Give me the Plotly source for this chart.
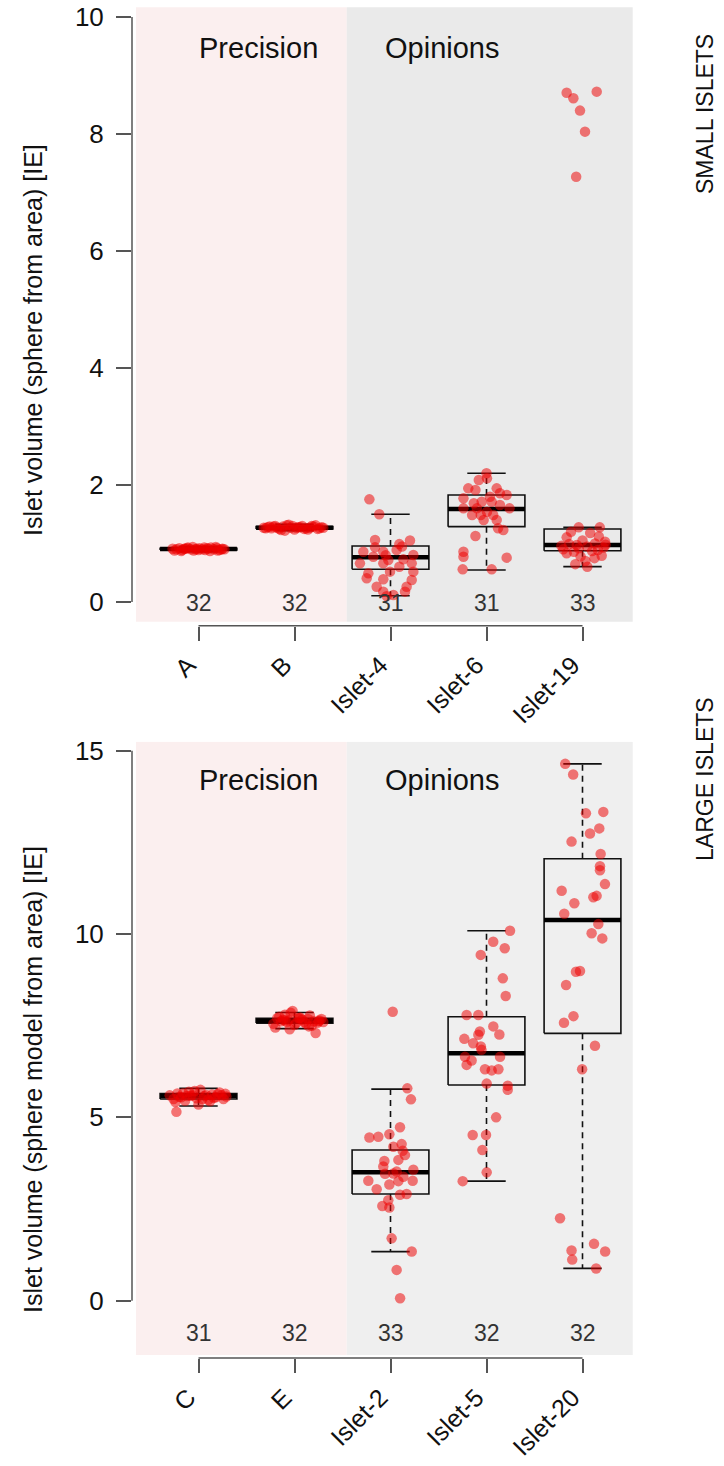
import plotly.graph_objects as go

# ---------------- data ----------------
top_categories = ["A", "B", "Islet-4", "Islet-6", "Islet-19"]
bottom_categories = ["C", "E", "Islet-2", "Islet-5", "Islet-20"]
top_counts = [32, 32, 31, 31, 33]
bottom_counts = [31, 32, 33, 32, 32]

# box statistics: lower whisker, q1, median, q3, upper whisker
top_lw = [0.86, 1.22, 0.108, 0.547, 0.604]
top_q1 = [0.89, 1.25, 0.559, 1.288, 0.877]
top_med = [0.906, 1.27, 0.764, 1.59, 0.974]
top_q3 = [0.92, 1.29, 0.957, 1.829, 1.248]
top_uw = [0.95, 1.33, 1.50, 2.20, 1.276]

bot_lw = [5.31, 7.42, 1.337, 3.26, 0.88]
bot_q1 = [5.50, 7.57, 2.91, 5.88, 7.29]
bot_med = [5.58, 7.636, 3.50, 6.75, 10.38]
bot_q3 = [5.65, 7.70, 4.11, 7.745, 12.05]
bot_uw = [5.79, 7.86, 5.77, 10.09, 14.64]

# jittered points: horizontal offset from category centre, value
A_dx = [-0.27, -0.23, -0.2, -0.17, -0.14, -0.11, -0.08, -0.05, -0.02, 0.01, 0.04, 0.07, 0.1, 0.13, 0.16, 0.19,
        0.22, 0.25, 0.27, -0.25, -0.18, -0.12, -0.06, 0.0, 0.06, 0.12, 0.18, 0.24, -0.15, -0.03, 0.09, 0.2]
A_y = [0.91, 0.9, 0.92, 0.89, 0.91, 0.93, 0.9, 0.88, 0.91, 0.92, 0.9, 0.89, 0.91, 0.93, 0.9, 0.92,
       0.89, 0.91, 0.9, 0.88, 0.87, 0.92, 0.94, 0.89, 0.93, 0.87, 0.94, 0.9, 0.91, 0.9, 0.92, 0.88]

B_dx = [-0.32, -0.28, -0.24, -0.2, -0.16, -0.12, -0.08, -0.04, 0.0, 0.04, 0.08, 0.12, 0.16, 0.2, 0.24, 0.28,
        -0.3, -0.22, -0.14, -0.06, 0.02, 0.1, 0.18, 0.26, -0.26, -0.1, 0.06, 0.22, -0.18, 0.14, -0.02, 0.3]
B_y = [1.27, 1.28, 1.26, 1.3, 1.25, 1.29, 1.31, 1.27, 1.24, 1.28, 1.3, 1.26, 1.27, 1.29, 1.25, 1.28,
       1.26, 1.29, 1.23, 1.32, 1.27, 1.25, 1.3, 1.26, 1.29, 1.22, 1.28, 1.31, 1.27, 1.24, 1.3, 1.27]

I4_dx = [-0.22, -0.117, -0.161, 0.092, 0.203, -0.161, -0.283, -0.075, 0.064, 0.238, -0.179, -0.023, 0.134,
         -0.318, -0.075, 0.221, 0.092, -0.231, -0.005, 0.238, -0.248, -0.075, 0.221, -0.144, 0.168, -0.075,
         0.151, 0.030, -0.040, 0.12, -0.05]
I4_y = [1.755, 1.50, 1.06, 0.99, 1.05, 0.934, 0.86, 0.86, 0.889, 0.803, 0.774, 0.718, 0.729,
        0.661, 0.661, 0.661, 0.604, 0.49, 0.519, 0.519, 0.405, 0.388, 0.376, 0.262, 0.262, 0.177,
        0.177, 0.12, 0.10, 0.95, 0.80]

I6_dx = [0.0, 0.005, -0.08, -0.19, 0.106, -0.115, 0.14, 0.21, -0.24, -0.05, 0.054, -0.132, -0.24, -0.1, 0.14,
         0.24, -0.15, -0.06, 0.07, 0.005, 0.106, 0.12, -0.115, -0.24, -0.24, 0.21, -0.248, 0.054, 0.175,
         -0.03, 0.036]
I6_y = [2.2, 2.114, 2.085, 1.943, 1.943, 1.915, 1.858, 1.829, 1.772, 1.715, 1.715, 1.687, 1.601, 1.601, 1.658,
        1.601, 1.487, 1.487, 1.487, 1.544, 1.402, 1.259, 1.128, 0.86, 0.775, 0.758, 0.558, 0.558, 1.231,
        1.402, 1.80]

I19_dx = [-0.04, 0.18, -0.165, 0.235, -0.06, 0.13, -0.165, -0.04, 0.05, 0.16, -0.09, 0.125, -0.075, 0.05,
          0.2, -0.22, 0.0, 0.08, -0.12, 0.22, -0.2, 0.1, -0.02, 0.17, -0.14, 0.03, 0.24,
          -0.165, -0.095, 0.148, -0.026, 0.026, -0.066]
I19_y = [1.276, 1.276, 1.105, 1.031, 0.974, 1.0, 0.832, 0.92, 0.95, 0.89, 0.86, 0.75, 0.647, 0.604,
         0.79, 0.96, 1.05, 1.18, 1.2, 0.93, 0.9, 0.87, 0.78, 1.12, 0.99, 0.7, 0.98,
         8.706, 8.61, 8.724, 8.40, 8.04, 7.27]

C_dx = [-0.3, -0.26, -0.22, -0.18, -0.14, -0.1, -0.06, -0.02, 0.02, 0.06, 0.1, 0.14, 0.18, 0.22, 0.26, 0.29,
        -0.24, -0.16, -0.08, 0.0, 0.08, 0.16, 0.24, -0.2, -0.04, 0.12, 0.2, -0.12, 0.04, -0.23, 0.28]
C_y = [5.6, 5.5, 5.65, 5.55, 5.45, 5.7, 5.6, 5.52, 5.75, 5.58, 5.48, 5.62, 5.55, 5.68, 5.5, 5.57,
       5.42, 5.66, 5.59, 5.35, 5.61, 5.53, 5.6, 5.56, 5.72, 5.44, 5.63, 5.58, 5.5, 5.15, 5.64]

E_dx = [-0.22, -0.18, -0.14, -0.1, -0.06, -0.02, 0.02, 0.06, 0.1, 0.14, 0.18, 0.22, 0.26, 0.3, -0.2, -0.12,
        -0.04, 0.04, 0.12, 0.2, 0.28, -0.16, -0.08, 0.0, 0.08, 0.16, 0.24, -0.1, 0.05, 0.15, 0.25, -0.05]
E_y = [7.55, 7.7, 7.62, 7.8, 7.65, 7.9, 7.58, 7.72, 7.6, 7.68, 7.5, 7.3, 7.64, 7.6, 7.45, 7.66,
       7.85, 7.7, 7.55, 7.62, 7.68, 7.74, 7.6, 7.52, 7.66, 7.78, 7.58, 7.64, 7.7, 7.48, 7.62, 7.4]

I2_dx = [0.023, 0.175, 0.213, 0.099, -0.220, -0.127, -0.012, 0.116, 0.127, 0.151, -0.064, 0.082, 0.238, 0.064,
         -0.057, 0.030, -0.231, -0.012, 0.082, 0.231, 0.099, 0.168, -0.085, -0.012, -0.023, 0.012, 0.221,
         0.064, 0.1, 0.030, -0.075, 0.134, -0.144]
I2_y = [7.88, 5.79, 5.49, 4.73, 4.45, 4.47, 4.54, 4.27, 4.09, 3.97, 3.81, 3.84, 3.57, 3.52,
        3.46, 3.47, 3.27, 3.17, 3.26, 3.27, 2.89, 2.91, 2.58, 2.54, 2.74, 1.70, 1.34,
        0.84, 0.065, 4.2, 3.66, 3.38, 3.04]

I5_dx = [0.245, 0.07, 0.19, -0.06, 0.17, 0.20, -0.207, -0.085, -0.069, -0.231, -0.085, 0.134, -0.059, -0.052,
         -0.224, -0.155, -0.207, -0.016, 0.054, 0.124, 0.002, 0.221, 0.221, 0.1, -0.144, -0.005, -0.043,
         0.002, -0.248, 0.071, -0.139, 0.141]
I5_y = [10.09, 9.79, 9.61, 9.43, 8.79, 8.31, 7.79, 7.79, 7.34, 7.14, 7.25, 7.26, 6.93, 6.84,
        6.65, 6.55, 6.43, 6.31, 6.28, 6.31, 5.92, 5.86, 5.75, 5.00, 4.52, 4.52, 4.11,
        3.50, 3.26, 7.48, 7.02, 6.65]

I20_dx = [-0.18, -0.097, 0.036, 0.217, 0.175, 0.078, -0.114, 0.189, 0.182, 0.182, 0.234, -0.217, 0.147, 0.113,
          -0.085, -0.19, 0.165, 0.095, 0.206, -0.068, -0.026, -0.171, -0.094, -0.193, 0.130, -0.004,
          -0.234, 0.12, -0.114, 0.236, -0.107, 0.142]
I20_y = [14.64, 14.35, 13.29, 13.33, 12.88, 12.74, 12.52, 12.18, 11.85, 11.74, 11.36, 11.18, 11.04, 11.0,
         10.84, 10.55, 10.27, 10.02, 9.88, 8.97, 8.99, 8.61, 7.76, 7.58, 6.95, 6.31,
         2.25, 1.55, 1.37, 1.34, 1.12, 0.88]

top_points = [(A_dx, A_y), (B_dx, B_y), (I4_dx, I4_y), (I6_dx, I6_y), (I19_dx, I19_y)]
bot_points = [(C_dx, C_y), (E_dx, E_y), (I2_dx, I2_y), (I5_dx, I5_y), (I20_dx, I20_y)]

# ---------------- style ----------------
FONT = "Liberation Sans"
PINK = "#FBEFEF"
GRAY_TOP = "#EAEAEA"
GRAY_BOT = "#EFEFEF"
PT_COLOR = "rgba(238,0,0,0.52)"
BOX_W = 0.8
CAP_W = 0.4

fig = go.Figure()


def add_panel(xa, ya, lw, q1, med, q3, uw, points):
    n = len(med)
    cx = list(range(1, n + 1))
    bx, by = [], []
    mx, my = [], []
    wx, wy = [], []
    kx, ky = [], []
    for i in range(n):
        c = cx[i]
        l, r = c - BOX_W / 2, c + BOX_W / 2
        bx += [l, r, r, l, l, None]
        by += [q1[i], q1[i], q3[i], q3[i], q1[i], None]
        mx += [l, r, None]
        my += [med[i], med[i], None]
        wx += [c, c, None, c, c, None]
        wy += [q3[i], uw[i], None, q1[i], lw[i], None]
        kx += [c - CAP_W / 2, c + CAP_W / 2, None, c - CAP_W / 2, c + CAP_W / 2, None]
        ky += [uw[i], uw[i], None, lw[i], lw[i], None]
    common = dict(xaxis=xa, yaxis=ya, mode="lines", hoverinfo="skip", showlegend=False)
    fig.add_trace(go.Scatter(x=wx, y=wy, line=dict(color="#111", width=1.6, dash="6px,5px"), **common))
    fig.add_trace(go.Scatter(x=kx, y=ky, line=dict(color="#111", width=1.6), **common))
    fig.add_trace(go.Scatter(x=bx, y=by, line=dict(color="#111", width=1.6), **common))
    fig.add_trace(go.Scatter(x=mx, y=my, line=dict(color="#000", width=4.5), **common))
    for i, (dx, yv) in enumerate(points):
        fig.add_trace(go.Scatter(
            x=[cx[i] + d for d in dx], y=yv, xaxis=xa, yaxis=ya, mode="markers",
            marker=dict(size=10.5, color=PT_COLOR, line=dict(width=0)),
            showlegend=False, hoverinfo="skip"))


add_panel("x", "y", top_lw, top_q1, top_med, top_q3, top_uw, top_points)
add_panel("x2", "y2", bot_lw, bot_q1, bot_med, bot_q3, bot_uw, bot_points)

shapes = []
for xr, yr, gray, y0, y1 in [("x", "y", GRAY_TOP, -0.337, 10.166), ("x2", "y2", GRAY_BOT, -1.481, 15.244)]:
    shapes.append(dict(type="rect", xref=xr, yref=yr, x0=0.349, x1=2.544, y0=y0, y1=y1,
                       fillcolor=PINK, line=dict(width=0), layer="below"))
    shapes.append(dict(type="rect", xref=xr, yref=yr, x0=2.544, x1=5.523, y0=y0, y1=y1,
                       fillcolor=gray, line=dict(width=0), layer="below"))
AX_COL = "#555"
shapes.append(dict(type="line", xref="x domain", yref="y", x0=0, x1=0, y0=0, y1=10,
                   line=dict(color=AX_COL, width=1.5)))
shapes.append(dict(type="line", xref="x2 domain", yref="y2", x0=0, x1=0, y0=0, y1=15,
                   line=dict(color=AX_COL, width=1.5)))
shapes.append(dict(type="line", xref="x", yref="y domain", x0=1, x1=5, y0=0, y1=0,
                   line=dict(color=AX_COL, width=1.5)))
shapes.append(dict(type="line", xref="x2", yref="y2 domain", x0=1, x1=5, y0=0, y1=0,
                   line=dict(color=AX_COL, width=1.5)))

annotations = []
for xr, yr, ny, counts in [("x", "y", -0.01, top_counts), ("x2", "y2", -0.88, bottom_counts)]:
    for i, c in enumerate(counts):
        annotations.append(dict(x=i + 1, y=ny, xref=xr, yref=yr, text=str(c), showarrow=False,
                                font=dict(family=FONT, size=23, color="#333"),
                                xanchor="center", yanchor="middle"))
for xr, yr, gy in [("x", "y", 9.47), ("x2", "y2", 14.2)]:
    annotations.append(dict(x=1.62, y=gy, xref=xr, yref=yr, text="Precision", showarrow=False,
                            font=dict(family=FONT, size=29, color="#111"), xanchor="center", yanchor="middle"))
    annotations.append(dict(x=3.54, y=gy, xref=xr, yref=yr, text="Opinions", showarrow=False,
                            font=dict(family=FONT, size=29, color="#111"), xanchor="center", yanchor="middle"))

L, R, T, B = 132, 91, 7, 108
W, H = 724, 1466
PW, PH = W - L - R, H - T - B


def px_x(p):
    return (p - L) / PW


def px_y(p):
    return (H - B - p) / PH


annotations.append(dict(x=px_x(33), y=px_y(340), xref="paper", yref="paper",
                        text="Islet volume (sphere from area) [IE]", textangle=-90, showarrow=False,
                        font=dict(family=FONT, size=25, color="#111"), xanchor="center", yanchor="middle"))
annotations.append(dict(x=px_x(33), y=px_y(1080), xref="paper", yref="paper",
                        text="Islet volume (sphere model from area) [IE]", textangle=-90, showarrow=False,
                        font=dict(family=FONT, size=25, color="#111"), xanchor="center", yanchor="middle"))
annotations.append(dict(x=px_x(705), y=px_y(114), xref="paper", yref="paper",
                        text="SMALL ISLETS", textangle=-90, showarrow=False,
                        font=dict(family=FONT, size=23, color="#111"), xanchor="center", yanchor="middle"))
annotations.append(dict(x=px_x(705), y=px_y(779), xref="paper", yref="paper",
                        text="LARGE ISLETS", textangle=-90, showarrow=False,
                        font=dict(family=FONT, size=23, color="#111"), xanchor="center", yanchor="middle"))

ytickfont = dict(family=FONT, size=26, color="#111")
xtickfont = dict(family=FONT, size=25, color="#111")
xcommon = dict(range=[0.3073, 5.526], tickvals=[1, 2, 3, 4, 5], tickangle=-45, ticks="outside",
               ticklen=14, tickwidth=1.5, tickcolor=AX_COL, showline=False, showgrid=False,
               zeroline=False, tickfont=xtickfont, ticklabelstandoff=0, ticklabelshift=-10,
               domain=[0, 1], automargin=False)
ycommon = dict(ticks="outside", ticklen=15, tickwidth=1.5, tickcolor=AX_COL, showline=False,
               showgrid=False, zeroline=False, tickfont=ytickfont, ticklabelstandoff=7, automargin=False)

fig.update_layout(
    width=W, height=H,
    margin=dict(l=L, r=R, t=T, b=B, autoexpand=False),
    paper_bgcolor="white", plot_bgcolor="white",
    xaxis=dict(anchor="y", ticktext=top_categories, **xcommon),
    yaxis=dict(anchor="x", domain=[px_y(625.7), 1], range=[-0.405, 10.171],
               tickvals=[0, 2, 4, 6, 8, 10], **ycommon),
    xaxis2=dict(anchor="y2", ticktext=bottom_categories, **xcommon),
    yaxis2=dict(anchor="x2", domain=[0, px_y(741.7)], range=[-1.563, 15.244],
                tickvals=[0, 5, 10, 15], **ycommon),
    shapes=shapes,
    annotations=annotations,
    showlegend=False,
)

fig.write_html("out.html")
